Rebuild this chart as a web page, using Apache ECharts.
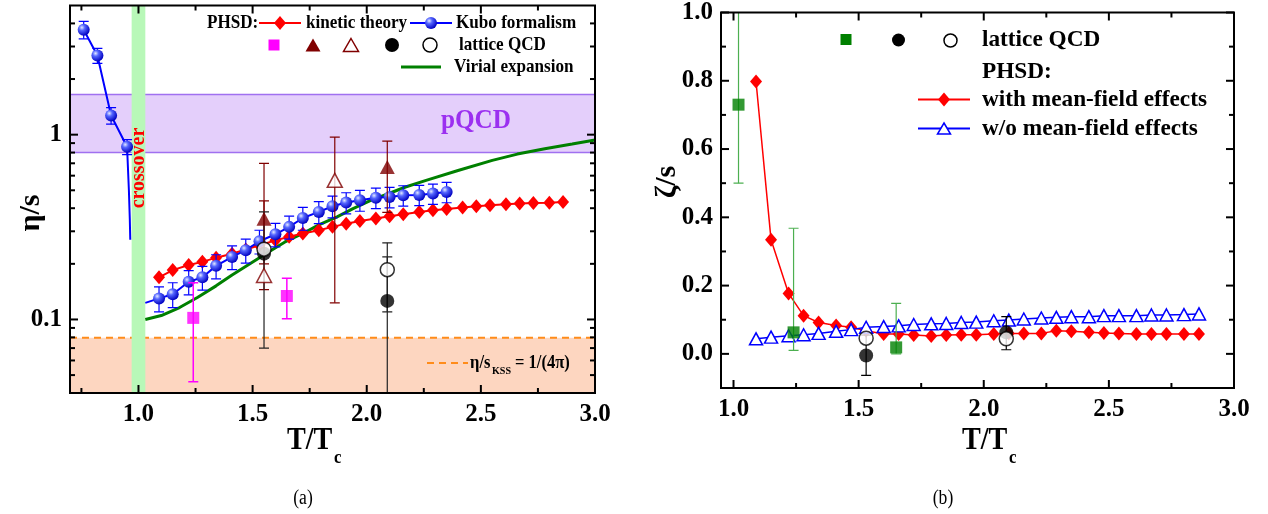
<!DOCTYPE html>
<html>
<head>
<meta charset="utf-8">
<script src="https://cdn.jsdelivr.net/npm/echarts@6/dist/echarts.min.js"></script>
<style>
  html, body { margin: 0; padding: 0; background: #fff; }
  #chart { width: 1268px; height: 514px; }
</style>
</head>
<body>
<div id="chart"></div>
<script>
// ---------------- (a) shear viscosity over entropy density ----------------
// PHSD temperature grid (T/Tc)
const phsdT = [1.09, 1.15, 1.22, 1.28, 1.34, 1.41, 1.47, 1.53, 1.60, 1.66, 1.72, 1.79, 1.85, 1.91, 1.97,
               2.04, 2.10, 2.16, 2.23, 2.29, 2.35, 2.42, 2.48, 2.54, 2.61, 2.67, 2.73, 2.80, 2.86];
// kinetic theory
const kineticEta = [0.169, 0.185, 0.197, 0.205, 0.216, 0.227, 0.239, 0.252, 0.268, 0.280, 0.292, 0.304, 0.317, 0.330, 0.341,
                    0.352, 0.362, 0.371, 0.382, 0.390, 0.396, 0.403, 0.410, 0.415, 0.420, 0.424, 0.427, 0.428, 0.432];
// Kubo formalism above Tc (first 21 temperatures) with errors
const kuboEta = [0.130, 0.137, 0.160, 0.169, 0.195, 0.218, 0.237, 0.265, 0.289, 0.317, 0.354, 0.382, 0.410, 0.429, 0.442,
                 0.456, 0.460, 0.470, 0.472, 0.480, 0.490];
const kuboErr = [0.020, 0.021, 0.024, 0.025, 0.029, 0.032, 0.035, 0.039, 0.042, 0.045, 0.050, 0.052, 0.055, 0.056, 0.057,
                 0.058, 0.058, 0.059, 0.059, 0.060, 0.062];
const kuboLead = [1.03, 0.123];            // curve start at the crossover edge
// Kubo formalism below Tc (hadronic side) and its steep drop
const kuboLowT = [0.76, 0.82, 0.88, 0.95];
const kuboLowEta = [3.70, 2.68, 1.27, 0.86];
const kuboLowErr = [0.40, 0.25, 0.13, 0.08];
const kuboTailT = [0.958, 0.962, 0.964];
const kuboTailEta = [0.50, 0.35, 0.27];
// virial expansion
const virialT = [1.03, 1.10, 1.18, 1.26, 1.34, 1.41, 1.49, 1.57, 1.64, 1.72, 1.79, 1.87, 1.94, 2.02, 2.10, 2.17,
                 2.26, 2.40, 2.55, 2.66, 2.78, 2.90, 3.00];
const virialEta = [0.100, 0.105, 0.116, 0.132, 0.152, 0.174, 0.201, 0.232, 0.262, 0.292, 0.325, 0.359, 0.398, 0.442,
                   0.482, 0.521, 0.566, 0.640, 0.726, 0.785, 0.840, 0.890, 0.935];
// lattice QCD: [T/Tc, value, lower, upper]
const latMagenta   = [[1.24, 0.102, 0.046, 0.158], [1.65, 0.134, 0.101, 0.167]];
const latTriFilled = [[1.55, 0.351, 0.200, 0.700], [2.09, 0.668, 0.380, 0.923]];
const latTriOpen   = [[1.55, 0.173, 0.145, 0.438], [1.86, 0.566, 0.123, 0.970]];
const latDotA      = [[1.55, 0.227, 0.070, 0.382], [2.09, 0.126, 0.010, 0.260]];
const latRingA     = [[1.55, 0.240], [2.09, 0.186, 0.110, 0.218]];
// reference regions
const crossoverRange = [0.97, 1.03];
const pqcdRange = [0.80, 1.65];
const kssBound = 1 / (4 * Math.PI);
// axis ticks
const xMajorA = [1.0, 1.5, 2.0, 2.5, 3.0];
const xMinorA = [0.75, 1.25, 1.75, 2.25, 2.75];
const yMajorA = [0.1, 1];
const yMinorA = [0.05, 0.06, 0.07, 0.08, 0.09, 0.2, 0.3, 0.4, 0.5, 0.6, 0.7, 0.8, 0.9, 2, 3, 4];

// ---------------- (b) bulk viscosity over entropy density ----------------
const zetaMF = [0.798, 0.334, 0.177, 0.112, 0.092, 0.083, 0.078, 0.068, 0.058, 0.058, 0.055, 0.052, 0.055, 0.056, 0.056,
                0.058, 0.060, 0.060, 0.060, 0.068, 0.066, 0.063, 0.061, 0.060, 0.058, 0.058, 0.058, 0.058, 0.058];
const zetaNoMF = [0.044, 0.049, 0.053, 0.056, 0.060, 0.066, 0.071, 0.078, 0.080, 0.082, 0.086, 0.088, 0.089, 0.092, 0.093,
                  0.097, 0.099, 0.102, 0.105, 0.107, 0.109, 0.109, 0.112, 0.112, 0.112, 0.114, 0.114, 0.115, 0.117];
const latGreen = [[1.02, 0.730, 0.500, 1.050], [1.24, 0.063, 0.010, 0.368], [1.65, 0.019, 0.000, 0.148]];
const latDotB  = [[1.53, -0.005, -0.063, 0.055], [2.09, 0.063, 0.012, 0.109]];
const latRingB = [[1.53, 0.046], [2.09, 0.044]];
const xMajorB = [1.0, 1.5, 2.0, 2.5, 3.0];
const xMinorB = [1.25, 1.75, 2.25, 2.75];
const yMajorB = [0.0, 0.2, 0.4, 0.6, 0.8, 1.0];
const yMinorB = [0.1, 0.3, 0.5, 0.7, 0.9];

// ---------------- styling ----------------
const F = '"Liberation Serif", "Times New Roman", serif';
const RED = '#ff0000', BLUE = '#0000ff', MAROON = '#800000', MAGENTA = '#ff00ff';
const ballFill = new echarts.graphic.RadialGradient(0.35, 0.32, 0.7, [
  { offset: 0, color: '#e4eaff' }, { offset: 0.35, color: '#5566ff' }, { offset: 1, color: '#0000c0' }
]);

const pairs = (xs, ys) => ys.map((y, i) => [xs[i], y]);

// vertical error bars with caps
function errorBars(name, rows, color, width, cap, axis, z) {
  return {
    type: 'custom', name, xAxisIndex: axis, yAxisIndex: axis, z, clip: true,
    encode: { x: 0, y: [1, 2] },
    data: rows.filter(r => r.length >= 4).map(r => [r[0], r[2], r[3]]),
    renderItem(params, api) {
      const a = api.coord([api.value(0), api.value(1)]);
      const b = api.coord([api.value(0), api.value(2)]);
      const st = { stroke: color, lineWidth: width };
      return { type: 'group', children: [
        { type: 'line', shape: { x1: a[0], y1: a[1], x2: b[0], y2: b[1] }, style: st },
        { type: 'line', shape: { x1: a[0] - cap, y1: a[1], x2: a[0] + cap, y2: a[1] }, style: st },
        { type: 'line', shape: { x1: b[0] - cap, y1: b[1], x2: b[0] + cap, y2: b[1] }, style: st }
      ] };
    }
  };
}
function symErrRows(xs, ys, es) { return ys.map((y, i) => [xs[i], y, y - es[i], y + es[i]]); }

// frame and inward ticks on all four sides
function frameTicks(axis, xMaj, xMin, yMaj, yMin, xRef, yRef) {
  const data = []
    .concat(xMaj.map(v => [v, yRef, 0]), xMin.map(v => [v, yRef, 1]))
    .concat(yMaj.map(v => [xRef, v, 2]), yMin.map(v => [xRef, v, 3]));
  return {
    type: 'custom', xAxisIndex: axis, yAxisIndex: axis, z: 20, clip: false, silent: true,
    encode: { x: 0, y: 1 }, data,
    renderItem(params, api) {
      const cs = params.coordSys;
      const kind = api.value(2);
      const p = api.coord([api.value(0), api.value(1)]);
      const len = (kind === 0 || kind === 2) ? 8 : 5;
      const st = { stroke: '#000', lineWidth: 2 };
      const children = [];
      if (kind < 2) {
        children.push({ type: 'line', shape: { x1: p[0], y1: cs.y + cs.height, x2: p[0], y2: cs.y + cs.height - len }, style: st });
        children.push({ type: 'line', shape: { x1: p[0], y1: cs.y, x2: p[0], y2: cs.y + len }, style: st });
      } else {
        children.push({ type: 'line', shape: { x1: cs.x, y1: p[1], x2: cs.x + len, y2: p[1] }, style: st });
        children.push({ type: 'line', shape: { x1: cs.x + cs.width, y1: p[1], x2: cs.x + cs.width - len, y2: p[1] }, style: st });
      }
      if (params.dataIndex === 0) {
        children.push({ type: 'rect', shape: { x: cs.x, y: cs.y, width: cs.width, height: cs.height },
          style: { fill: 'none', stroke: '#000', lineWidth: 2 } });
      }
      return { type: 'group', children };
    }
  };
}

const option = {
  animation: false,
  backgroundColor: '#fff',
  grid: [
    { left: 70, top: 5.5, width: 525, height: 387.5 },
    { left: 721, top: 11, width: 513, height: 377 }
  ],
  xAxis: [
    { gridIndex: 0, type: 'value', min: 0.7, max: 3.0,
      axisLine: { show: false }, axisTick: { show: false }, splitLine: { show: false },
      axisLabel: { customValues: xMajorA, formatter: v => v.toFixed(1), fontSize: 25, fontWeight: 'bold',
                   fontFamily: F, color: '#000', margin: 9 } },
    { gridIndex: 1, type: 'value', min: 0.95, max: 3.0,
      axisLine: { show: false }, axisTick: { show: false }, splitLine: { show: false },
      axisLabel: { customValues: xMajorB, formatter: v => v.toFixed(1), fontSize: 25, fontWeight: 'bold',
                   fontFamily: F, color: '#000', margin: 9 } }
  ],
  yAxis: [
    { gridIndex: 0, type: 'log', logBase: 10, min: 0.04, max: 5,
      axisLine: { show: false }, axisTick: { show: false }, splitLine: { show: false },
      axisLabel: { showMinLabel: false, showMaxLabel: false, fontSize: 25, fontWeight: 'bold', fontFamily: F,
                   color: '#000', margin: 8,
                   formatter: v => (Math.abs(v - 0.1) < 1e-9 ? '0.1' : (Math.abs(v - 1) < 1e-9 ? '1' : '')) } },
    { gridIndex: 1, type: 'value', min: -0.1, max: 1.0,
      axisLine: { show: false }, axisTick: { show: false }, splitLine: { show: false },
      axisLabel: { customValues: yMajorB, formatter: v => v.toFixed(1), fontSize: 25, fontWeight: 'bold',
                   fontFamily: F, color: '#000', margin: 8 } }
  ],
  series: [
    // ---- (a) background regions ----
    { type: 'custom', xAxisIndex: 0, yAxisIndex: 0, z: 1, clip: true, silent: true,
      encode: { x: 0, y: [1, 2] }, data: [[1.0, 0.04, kssBound]],
      renderItem(params, api) {
        const cs = params.coordSys;
        const top = api.coord([api.value(0), api.value(2)])[1];
        return { type: 'group', children: [
          { type: 'rect', shape: { x: cs.x, y: top, width: cs.width, height: cs.y + cs.height - top }, style: { fill: '#fdd6c0' } },
          { type: 'line', shape: { x1: cs.x, y1: top, x2: cs.x + cs.width, y2: top },
            style: { stroke: '#ff8c1a', lineWidth: 2, lineDash: [7, 5] } }
        ] };
      } },
    { type: 'custom', xAxisIndex: 0, yAxisIndex: 0, z: 1, clip: true, silent: true,
      encode: { x: 0, y: [1, 2] }, data: [[1.0, pqcdRange[0], pqcdRange[1]]],
      renderItem(params, api) {
        const cs = params.coordSys;
        const top = api.coord([api.value(0), api.value(2)])[1];
        const bot = api.coord([api.value(0), api.value(1)])[1];
        const st = { stroke: '#a070f0', lineWidth: 1.5 };
        return { type: 'group', children: [
          { type: 'rect', shape: { x: cs.x, y: top, width: cs.width, height: bot - top }, style: { fill: '#e4cffb' } },
          { type: 'line', shape: { x1: cs.x, y1: top, x2: cs.x + cs.width, y2: top }, style: st },
          { type: 'line', shape: { x1: cs.x, y1: bot, x2: cs.x + cs.width, y2: bot }, style: st }
        ] };
      } },
    { type: 'custom', xAxisIndex: 0, yAxisIndex: 0, z: 2, clip: true, silent: true,
      encode: { x: [0, 1], y: 2 }, data: [[crossoverRange[0], crossoverRange[1], 1.0]],
      renderItem(params, api) {
        const cs = params.coordSys;
        const x0 = api.coord([api.value(0), api.value(2)])[0];
        const x1 = api.coord([api.value(1), api.value(2)])[0];
        return { type: 'rect', shape: { x: x0, y: cs.y, width: x1 - x0, height: cs.height }, style: { fill: '#b8f8b8' } };
      } },
    // ---- (a) curves ----
    { type: 'line', name: 'Virial expansion', xAxisIndex: 0, yAxisIndex: 0, z: 3, showSymbol: false,
      data: pairs(virialT, virialEta), lineStyle: { color: '#008000', width: 3 } },
    { type: 'line', name: 'kinetic theory', xAxisIndex: 0, yAxisIndex: 0, z: 4,
      data: pairs(phsdT, kineticEta), symbol: 'diamond', symbolSize: [12, 14],
      lineStyle: { color: RED, width: 2 }, itemStyle: { color: RED } },
    errorBars('Kubo errors', symErrRows(phsdT, kuboEta, kuboErr), BLUE, 1.2, 5, 0, 5),
    errorBars('Kubo errors low T', symErrRows(kuboLowT, kuboLowEta, kuboLowErr), BLUE, 1.2, 5, 0, 5),
    { type: 'line', name: 'Kubo formalism', xAxisIndex: 0, yAxisIndex: 0, z: 5,
      data: [{ value: kuboLead, symbol: 'none' }].concat(pairs(phsdT, kuboEta)),
      symbol: 'circle', symbolSize: 12, lineStyle: { color: BLUE, width: 2 }, itemStyle: { color: ballFill } },
    { type: 'line', name: 'Kubo formalism (T<Tc)', xAxisIndex: 0, yAxisIndex: 0, z: 5,
      data: pairs(kuboLowT, kuboLowEta).concat(pairs(kuboTailT, kuboTailEta).map(p => ({ value: p, symbol: 'none' }))),
      symbol: 'circle', symbolSize: 12, lineStyle: { color: BLUE, width: 2 }, itemStyle: { color: ballFill } },
    // ---- (a) lattice QCD ----
    errorBars('lat magenta err', latMagenta, MAGENTA, 1.5, 5, 0, 6),
    errorBars('lat tri err', latTriFilled, MAROON, 1.2, 5, 0, 6),
    errorBars('lat open tri err', latTriOpen, MAROON, 1.2, 5, 0, 6),
    errorBars('lat dot err', latDotA, '#222', 1.2, 5, 0, 6),
    errorBars('lat ring err', latRingA, '#222', 1.2, 5, 0, 6),
    { type: 'scatter', xAxisIndex: 0, yAxisIndex: 0, z: 7, symbol: 'rect', symbolSize: 12,
      data: latMagenta.map(r => [r[0], r[1]]), itemStyle: { color: MAGENTA } },
    { type: 'scatter', xAxisIndex: 0, yAxisIndex: 0, z: 7, symbol: 'triangle', symbolSize: [15, 14],
      data: latTriFilled.map(r => [r[0], r[1]]), itemStyle: { color: MAROON } },
    { type: 'scatter', xAxisIndex: 0, yAxisIndex: 0, z: 7, symbol: 'triangle', symbolSize: [15, 14],
      data: latTriOpen.map(r => [r[0], r[1]]), itemStyle: { color: '#fff', borderColor: MAROON, borderWidth: 1.5 } },
    { type: 'scatter', xAxisIndex: 0, yAxisIndex: 0, z: 7, symbol: 'circle', symbolSize: 14,
      data: latDotA.map(r => [r[0], r[1]]), itemStyle: { color: '#000' } },
    { type: 'scatter', xAxisIndex: 0, yAxisIndex: 0, z: 8, symbol: 'circle', symbolSize: 14,
      data: latRingA.map(r => [r[0], r[1]]), itemStyle: { color: '#fff', borderColor: '#000', borderWidth: 1.5 } },
    frameTicks(0, xMajorA, xMinorA, yMajorA, yMinorA, 1.0, 0.5),

    // ---- (b) curves ----
    { type: 'line', name: 'with mean-field effects', xAxisIndex: 1, yAxisIndex: 1, z: 4,
      data: pairs(phsdT, zetaMF), symbol: 'diamond', symbolSize: [12, 14],
      lineStyle: { color: RED, width: 1.5 }, itemStyle: { color: RED } },
    { type: 'line', name: 'w/o mean-field effects', xAxisIndex: 1, yAxisIndex: 1, z: 5,
      data: pairs(phsdT, zetaNoMF), symbol: 'triangle', symbolSize: [13, 12],
      lineStyle: { color: BLUE, width: 1.5 }, itemStyle: { color: '#fff', borderColor: BLUE, borderWidth: 1.5 } },
    // ---- (b) lattice QCD ----
    errorBars('lat green err', latGreen, '#4caf50', 1.2, 5, 1, 6),
    errorBars('lat dot err b', latDotB, '#000', 1.2, 5, 1, 6),
    { type: 'scatter', xAxisIndex: 1, yAxisIndex: 1, z: 7, symbol: 'rect', symbolSize: 12,
      data: latGreen.map(r => [r[0], r[1]]), itemStyle: { color: '#008000' } },
    { type: 'scatter', xAxisIndex: 1, yAxisIndex: 1, z: 7, symbol: 'circle', symbolSize: 14,
      data: latDotB.map(r => [r[0], r[1]]), itemStyle: { color: '#000' } },
    { type: 'scatter', xAxisIndex: 1, yAxisIndex: 1, z: 8, symbol: 'circle', symbolSize: 14,
      data: latRingB.map(r => [r[0], r[1]]), itemStyle: { color: '#fff', borderColor: '#000', borderWidth: 1.5 } },
    frameTicks(1, xMajorB, xMinorB, yMajorB, yMinorB, 1.0, 0.0)
  ]
};

// ---------------- texts, legends ----------------
function txt(x, y, s, size, o) {
  o = o || {};
  return {
    type: 'text', x, y, z: 100, scaleX: o.sx || 1, scaleY: o.sy || 1, rotation: o.rot || 0,
    style: { text: s, x: 0, y: 0, fontSize: size, fontWeight: o.w || 'bold', fontFamily: F,
             fill: o.color || '#000', textAlign: o.align || 'left', textVerticalAlign: 'middle' }
  };
}
const hline = (x1, x2, y, color, w, dash) => ({ type: 'line', z: 100,
  shape: { x1, y1: y, x2, y2: y }, style: { stroke: color, lineWidth: w, lineDash: dash || null } });
const diamond = (cx, cy, color) => ({ type: 'polygon', z: 101,
  shape: { points: [[cx, cy - 7], [cx + 6, cy], [cx, cy + 7], [cx - 6, cy]] }, style: { fill: color } });
const tri = (cx, cy, w, h, fill, stroke) => ({ type: 'polygon', z: 101,
  shape: { points: [[cx, cy - h / 2], [cx + w / 2, cy + h / 2], [cx - w / 2, cy + h / 2]] },
  style: { fill, stroke: stroke || null, lineWidth: 1.5 } });
const dot = (cx, cy, r, fill, stroke) => ({ type: 'circle', z: 101,
  shape: { cx, cy, r }, style: { fill, stroke: stroke || null, lineWidth: 1.5 } });
const sq = (cx, cy, s, fill) => ({ type: 'rect', z: 101,
  shape: { x: cx - s / 2, y: cy - s / 2, width: s, height: s }, style: { fill } });

option.graphic = { elements: [
  // panel (a) legend
  txt(207, 23, 'PHSD:', 19, { sx: 0.9 }),
  hline(259, 301, 23, RED, 2), diamond(280, 23, RED),
  txt(306, 23, 'kinetic theory', 19, { sx: 0.9 }),
  hline(410, 452, 23, BLUE, 2), dot(431, 23, 6, ballFill),
  txt(456, 23, 'Kubo formalism', 19, { sx: 0.9 }),
  sq(274, 45, 11, MAGENTA),
  tri(313, 45, 15, 13, MAROON),
  tri(351, 45, 15, 13, '#fff', MAROON),
  dot(392, 45, 7, '#000'),
  dot(430, 45, 7, '#fff', '#000'),
  txt(459, 45, 'lattice QCD', 19, { sx: 0.9 }),
  hline(401, 441, 67, '#008000', 3),
  txt(454, 67, 'Virial expansion', 19, { sx: 0.9 }),
  txt(476, 121, 'pQCD', 28, { color: '#9b30f0', align: 'center', sx: 0.9 }),
  txt(139, 168, 'crossover', 20, { color: RED, align: 'center', rot: Math.PI / 2 }),
  hline(427, 468, 363, '#ff8c1a', 2, [7, 5]),
  txt(470, 363, 'η/s', 18, { sx: 0.92 }),
  txt(492, 371, 'KSS', 11, { sx: 0.92 }),
  txt(515, 363, '= 1/(4π)', 18, { sx: 0.92 }),
  // panel (a) axis titles
  txt(287, 441, 'T/T', 32, { sx: 0.88 }),
  txt(334, 458, 'c', 19, { sx: 0.88 }),
  txt(31, 213, 'η/s', 30, { align: 'center', rot: Math.PI / 2 }),
  txt(303, 499, '(a)', 20, { w: 'normal', align: 'center', sx: 0.88 }),
  // panel (b) legend
  sq(846, 39.5, 11, '#008000'),
  dot(898.5, 40, 6.5, '#000'),
  dot(950.5, 40.5, 6.5, '#fff', '#000'),
  txt(982, 40, 'lattice QCD', 24, { sx: 0.97 }),
  txt(982, 71.5, 'PHSD:', 24, { sx: 0.97 }),
  hline(918, 970, 99.5, RED, 2), diamond(944, 99.5, RED),
  txt(982, 99.5, 'with mean-field effects', 24, { sx: 0.97 }),
  hline(918, 970, 128.5, BLUE, 2), tri(944, 128.5, 13, 11, '#fff', BLUE),
  txt(982, 128.5, 'w/o mean-field effects', 24, { sx: 0.97 }),
  // panel (b) axis titles
  txt(962, 441, 'T/T', 32, { sx: 0.88 }),
  txt(1009, 458, 'c', 19, { sx: 0.88 }),
  txt(667, 182, 'ζ/s', 30, { align: 'center', rot: Math.PI / 2 }),
  txt(943, 499, '(b)', 20, { w: 'normal', align: 'center', sx: 0.88 })
] };

const chart = echarts.init(document.getElementById('chart'), null, { renderer: 'canvas' });
chart.setOption(option);
</script>
</body>
</html>
